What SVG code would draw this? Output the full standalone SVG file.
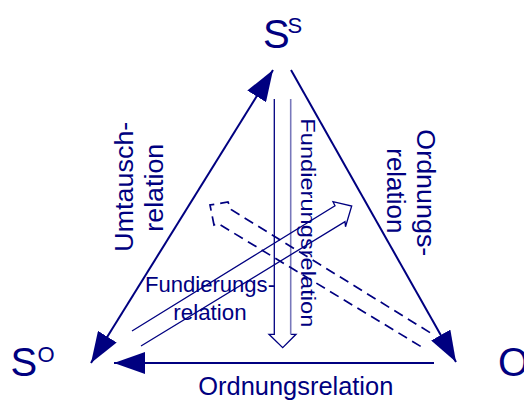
<svg xmlns="http://www.w3.org/2000/svg" width="524" height="401" viewBox="0 0 524 401">
<style>
  text { font-family: "Liberation Sans", Arial, sans-serif; fill: #000080; }
  .big { font-size: 40px; }
  .sup { font-size: 22px; }
  .lbl { font-size: 25px; }
  .edge { stroke: #000080; stroke-width: 2; fill: none; }
  .thin { stroke: #000080; stroke-width: 1.3; fill: none; stroke-linejoin: miter; }
  .dash { stroke: #000080; stroke-width: 1.7; fill: none; stroke-dasharray: 10 6; }
  .light { stroke: #7878bb; stroke-width: 1.6; fill: none; }
</style>
<defs>
  <marker id="ah" markerUnits="userSpaceOnUse" markerWidth="32" markerHeight="22" refX="31" refY="11" orient="auto-start-reverse">
    <path d="M0,0 L31,11 L0,22 z" fill="#000080"/>
  </marker>
</defs>
<rect width="524" height="401" fill="#ffffff"/>

<g id="node-SS">
  <text class="big" x="263" y="47.5">S</text>
  <text class="sup" x="287.5" y="33">S</text>
</g>
<g id="node-SO">
  <text class="big" x="10.5" y="376">S</text>
  <text class="sup" x="37.5" y="362">O</text>
</g>
<g id="node-O">
  <text class="big" x="498" y="376">O</text>
</g>

<g id="connectors">
  <line class="edge" x1="91" y1="363" x2="273" y2="70" marker-start="url(#ah)" marker-end="url(#ah)"/>
  <line class="edge" x1="291" y1="70" x2="456" y2="362" marker-end="url(#ah)"/>
  <line class="edge" x1="434" y1="363" x2="114" y2="363" marker-end="url(#ah)"/>

  <g id="fund-vertical">
    <path class="thin" d="M274.3,99 L274.3,334.3 L269,334.3 L282.7,347.7 L296,334.3 L290.7,334.3"/>
    <line class="light" x1="290.7" y1="99" x2="290.7" y2="334.3"/>
  </g>
  <g id="fund-diagonal">
    <path class="thin" d="M132,331 L335,205.7 L333,201.7 L351.7,206 L345.5,226.7 L345,221.7 L141,346"/>
  </g>
  <g id="dashed-diagonal">
    <path class="dash" d="M430,332.6 L231,209.5 L228,202 L210,205 L214,225 L218,223.5 L421.7,347"/>
  </g>
</g>

<g id="labels">
  <text class="lbl" transform="translate(133,251.7) rotate(-90)" textLength="130" lengthAdjust="spacingAndGlyphs">Umtausch-</text>
  <text class="lbl" transform="translate(163.3,231.7) rotate(-90)" textLength="88" lengthAdjust="spacingAndGlyphs">relation</text>
  <text class="lbl" transform="translate(417,129.3) rotate(90)" textLength="127" lengthAdjust="spacingAndGlyphs">Ordnungs-</text>
  <text class="lbl" transform="translate(387,148.3) rotate(90)" textLength="85" lengthAdjust="spacingAndGlyphs">relation</text>
  <text style="font-size:21px" transform="translate(300.5,118.3) rotate(90)" textLength="209" lengthAdjust="spacingAndGlyphs">Fundierungsrelation</text>
  <text style="font-size:22.5px" x="145" y="291.7" textLength="130" lengthAdjust="spacingAndGlyphs">Fundierungs-</text>
  <text style="font-size:22.5px" x="173.3" y="320" textLength="73.3" lengthAdjust="spacingAndGlyphs">relation</text>
  <text style="font-size:25px" x="198.3" y="395" textLength="195" lengthAdjust="spacingAndGlyphs">Ordnungsrelation</text>
</g>
</svg>
